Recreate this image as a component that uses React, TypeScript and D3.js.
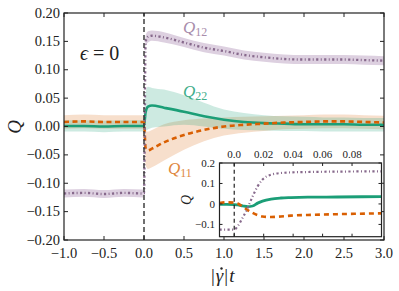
import * as d3 from "d3"

// main panel
const tMain = [-1.0, -0.75, -0.5, -0.25, -0.01, 0.0, 0.02, 0.05, 0.1, 0.25, 0.5, 0.75, 1.0, 1.25, 1.5, 1.75, 2.0, 2.25, 2.5, 2.75, 3.0]
const q12 = [-0.118, -0.117, -0.119, -0.117, -0.118, -0.118, 0.15, 0.158, 0.16, 0.157, 0.148, 0.139, 0.133, 0.126, 0.122, 0.119, 0.118, 0.118, 0.118, 0.117, 0.116]
const q12Err = [0.007, 0.007, 0.007, 0.007, 0.007, 0.007, 0.01, 0.01, 0.009, 0.009, 0.008, 0.008, 0.008, 0.008, 0.008, 0.008, 0.008, 0.008, 0.008, 0.008, 0.008]
const q22 = [0.001, 0.001, 0.0, 0.001, 0.001, 0.001, 0.025, 0.035, 0.037, 0.033, 0.026, 0.018, 0.012, 0.008, 0.006, 0.005, 0.004, 0.004, 0.004, 0.003, 0.003]
const q22Hi = [0.011, 0.011, 0.01, 0.011, 0.011, 0.011, 0.06, 0.07, 0.068, 0.065, 0.055, 0.042, 0.03, 0.024, 0.02, 0.018, 0.017, 0.016, 0.016, 0.015, 0.015]
const q22Lo = [-0.009, -0.009, -0.01, -0.009, -0.009, -0.009, -0.008, -0.005, -0.002, 0.0, 0.003, 0.0, -0.004, -0.006, -0.007, -0.008, -0.008, -0.009, -0.009, -0.009, -0.009]
const q11 = [0.008, 0.009, 0.008, 0.008, 0.008, 0.008, -0.038, -0.042, -0.039, -0.028, -0.015, -0.006, 0.0, 0.003, 0.005, 0.007, 0.008, 0.009, 0.009, 0.008, 0.007]
const q11Err = [0.012, 0.012, 0.012, 0.012, 0.012, 0.012, 0.03, 0.033, 0.033, 0.032, 0.026, 0.02, 0.016, 0.014, 0.013, 0.012, 0.012, 0.012, 0.012, 0.012, 0.012]

const xTicks = [-1.0, -0.5, 0.0, 0.5, 1.0, 1.5, 2.0, 2.5, 3.0]
const yTicks = [-0.2, -0.15, -0.1, -0.05, 0.0, 0.05, 0.1, 0.15, 0.2]

// inset
const tIn = [-0.01, -0.005, 0.0, 0.0023, 0.0057, 0.0091, 0.0125, 0.0159, 0.0192, 0.025, 0.0317, 0.0385, 0.05, 0.07, 0.1]
const q12In = [-0.125, -0.125, -0.125, -0.109, -0.068, -0.02, 0.037, 0.086, 0.119, 0.143, 0.151, 0.154, 0.156, 0.158, 0.159]
const q22In = [-0.002, -0.002, -0.003, -0.005, -0.009, -0.013, -0.01, 0.004, 0.014, 0.024, 0.029, 0.031, 0.033, 0.034, 0.036]
const q11In = [0.005, 0.008, 0.006, 0.002, -0.013, -0.03, -0.044, -0.055, -0.061, -0.064, -0.061, -0.057, -0.054, -0.05, -0.046]
const inXTicks = [0.0, 0.02, 0.04, 0.06, 0.08]
const inXLabels = ["0.0", "0.02", "0.04", "0.06", "0.08"]
const inYTicks = [-0.1, 0, 0.1, 0.2]
const inYLabels = ["\u22120.1", "0", "0.1", "0.2"]

const C12 = "#87698c", C12b = "#ddd0e0", C12t = "#a88dab"
const C22 = "#1b9e77", C22b = "rgba(27,158,119,0.22)", C22t = "#3fae8a"
const C11 = "#d95f02", C11b = "rgba(217,95,2,0.2)", C11t = "#e0883f"
const DASH12 = "2.2 2.4 1 2.4"
const FONT = "'Liberation Serif', serif"

const W = 399, H = 291

function Frame({ x, y, xt, yt, len }: any) {
  const [x0, x1] = x.range()
  const [y0, y1] = y.range()
  return (
    <g stroke="#222" fill="none">
      {xt.map((v: number, i: number) => (
        <g key={"x" + i}>
          <line x1={x(v)} x2={x(v)} y1={y0} y2={y0 - len} />
          <line x1={x(v)} x2={x(v)} y1={y1} y2={y1 + len} />
        </g>
      ))}
      {yt.map((v: number, i: number) => (
        <g key={"y" + i}>
          <line x1={x0} x2={x0 + len} y1={y(v)} y2={y(v)} />
          <line x1={x1} x2={x1 - len} y1={y(v)} y2={y(v)} />
        </g>
      ))}
      <rect x={x0} y={y1} width={x1 - x0} height={y0 - y1} strokeWidth={1.2} />
    </g>
  )
}

export default function App() {
  const x = d3.scaleLinear().domain([-1, 3]).range([64, 384])
  const y = d3.scaleLinear().domain([-0.2, 0.2]).range([240, 13])
  const xi = d3.scaleLinear().domain([-0.01, 0.1]).range([219.5, 381.5])
  const yi = d3.scaleLinear().domain([-0.16, 0.2]).range([236.7, 163])

  const idx = tMain.map((_, i) => i)
  const curve = d3.curveMonotoneX
  const line = (vals: number[]) =>
    d3.line<number>().x(i => x(tMain[i])).y(i => y(vals[i])).curve(curve)(idx) || ""
  const band = (lo: (i: number) => number, hi: (i: number) => number) =>
    d3.area<number>().x(i => x(tMain[i])).y0(i => y(lo(i))).y1(i => y(hi(i))).curve(curve)(idx) || ""

  const idxIn = tIn.map((_, i) => i)
  const lineIn = (vals: number[]) =>
    d3.line<number>().x(i => xi(tIn[i])).y(i => yi(vals[i])).curve(curve)(idxIn) || ""

  const fmtX = d3.format(".1f")
  const fmtY = d3.format(".2f")

  return (
    <svg width={W} height={H} style={{ position: "fixed", left: 0, top: 0, background: "#fff" }} fontFamily={FONT}>
      <defs>
        <clipPath id="mainClip"><rect x={64} y={13} width={320} height={227} /></clipPath>
        <clipPath id="inClip"><rect x={219.5} y={163} width={162} height={73.7} /></clipPath>
      </defs>
      <g clipPath="url(#mainClip)">
        <path d={band(i => q12[i] - q12Err[i], i => q12[i] + q12Err[i])} fill={C12b} />
        <path d={band(i => q11[i] - q11Err[i], i => q11[i] + q11Err[i])} fill={C11b} />
        <path d={band(i => q22Lo[i], i => q22Hi[i])} fill={C22b} />
        <path d={line(q22)} fill="none" stroke={C22} strokeWidth={2.6} />
        <path d={line(q11)} fill="none" stroke={C11} strokeWidth={2.6} strokeDasharray="5 3.5" />
        <path d={line(q12)} fill="none" stroke={C12} strokeWidth={2.4} strokeDasharray={DASH12} />
        <line x1={x(0)} x2={x(0)} y1={y(-0.2)} y2={y(0.2)} stroke="#333" strokeWidth={1.4} strokeDasharray="5 3" />
      </g>
      <Frame x={x} y={y} xt={xTicks} yt={yTicks} len={4} />
      {yTicks.map((v, i) => (
        <text key={i} x={60} y={y(v) + 4.5} textAnchor="end" fontSize={14.5} fill="#222">{fmtY(v)}</text>
      ))}
      {xTicks.map((v, i) => (
        <text key={i} x={x(v)} y={258} textAnchor="middle" fontSize={14.5} fill="#222">{fmtX(v)}</text>
      ))}
      <text transform="translate(21,127) rotate(-90)" textAnchor="middle" fontSize={19} fontStyle="italic" fill="#222">Q</text>
      <text x={211} y={282} fontSize={19} fill="#222">
        |<tspan fontStyle="italic" dx={1}>{"\u03b3"}</tspan><tspan dx={1}>|</tspan><tspan fontStyle="italic" dx={1}>t</tspan>
      </text>
      <circle cx={221.5} cy={268.5} r={1.2} fill="#222" />
      <text x={80} y={60} fontSize={20} fill="#222">
        <tspan fontStyle="italic">{"\u03f5"}</tspan> = 0
      </text>
      <text x={183} y={33} fontSize={17} fill={C12t}>
        <tspan fontStyle="italic">Q</tspan><tspan fontSize={12} dy={3}>12</tspan>
      </text>
      <text x={183} y={97} fontSize={17} fill={C22t}>
        <tspan fontStyle="italic">Q</tspan><tspan fontSize={12} dy={3}>22</tspan>
      </text>
      <text x={168} y={174} fontSize={17} fill={C11t}>
        <tspan fontStyle="italic">Q</tspan><tspan fontSize={12} dy={3}>11</tspan>
      </text>

      {/* inset */}
      <rect x={219.5} y={163} width={162} height={73.7} fill="#fff" />
      <g clipPath="url(#inClip)">
        <path d={lineIn(q22In)} fill="none" stroke={C22} strokeWidth={2.8} />
        <path d={lineIn(q11In)} fill="none" stroke={C11} strokeWidth={2.6} strokeDasharray="5 4" />
        <path d={lineIn(q12In)} fill="none" stroke={C12} strokeWidth={2.2} strokeDasharray={DASH12} />
        <line x1={xi(0)} x2={xi(0)} y1={yi(-0.16)} y2={yi(0.2)} stroke="#222" strokeWidth={1.2} strokeDasharray="4 3" />
      </g>
      <Frame x={xi} y={yi} xt={inXTicks} yt={inYTicks} len={3} />
      {inXTicks.map((v, i) => (
        <text key={i} x={xi(v)} y={158} textAnchor="middle" fontSize={11} fill="#222">{inXLabels[i]}</text>
      ))}
      {inYTicks.map((v, i) => (
        <text key={i} x={215} y={yi(v) + 4} textAnchor="end" fontSize={11} fill="#222">{inYLabels[i]}</text>
      ))}
      <text transform="translate(191,200) rotate(-90)" textAnchor="middle" fontSize={14} fontStyle="italic" fill="#222">Q</text>
    </svg>
  )
}
